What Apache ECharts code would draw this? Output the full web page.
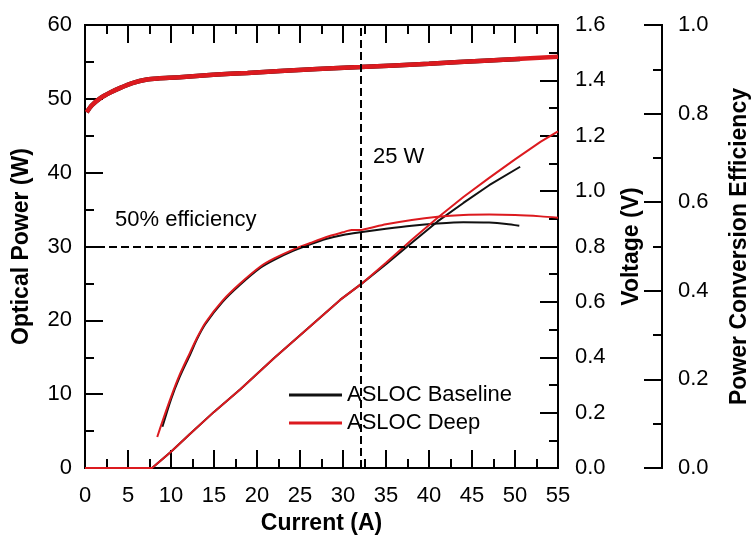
<!DOCTYPE html>
<html>
<head>
<meta charset="utf-8">
<script src="https://cdn.jsdelivr.net/npm/echarts@6/dist/echarts.min.js"></script>
<style>html,body{margin:0;padding:0;background:#fff}#c{width:753px;height:536px}</style>
</head>
<body>
<div id="c"></div>
<script>
// Current (A) vs optical power (W)
var powBase = [[0,0],[7.8,0],[10,2.2],[12.2,4.6],[15,7.6],[18.1,10.7],[22,14.9],[26,19.0],[29.7,22.8],[32.1,24.9],[35,27.6],[38,30.5],[41,33.4],[44,35.9],[47,38.3],[50.6,40.8]];
var powDeep = [[0,0],[7.8,0],[10,2.2],[12.2,4.6],[15,7.6],[18.1,10.7],[22,14.9],[26,19.0],[29.7,22.8],[32.1,24.9],[35,27.8],[38,30.9],[41,33.9],[44,36.7],[47,39.3],[50,41.8],[53,44.2],[55,45.6]];
// Current (A) vs voltage (V)
var voltBase = [[0.2,1.285],[0.8,1.31],[1.75,1.335],[3,1.357],[4.1,1.373],[5.5,1.39],[7.2,1.403],[8.5,1.407],[11,1.411],[14.9,1.42],[18.9,1.427],[22.7,1.434],[27,1.441],[32,1.448],[40,1.46],[47,1.472],[50.6,1.477]];
var voltDeep = [[0.2,1.285],[0.8,1.31],[1.75,1.335],[3,1.357],[4.1,1.373],[5.5,1.39],[7.2,1.403],[8.5,1.407],[11,1.411],[14.9,1.42],[18.9,1.427],[22.7,1.434],[27,1.441],[32,1.448],[40,1.46],[47,1.472],[55,1.485]];
// Current (A) vs power conversion efficiency
var effBase = [[9.0,0.093],[10,0.155],[11,0.205],[12.2,0.255],[13,0.29],[14,0.325],[16,0.375],[18,0.413],[20.4,0.452],[22,0.47],[24.2,0.49],[26.2,0.505],[28,0.517],[30,0.526],[32,0.532],[35,0.54],[38,0.547],[41,0.552],[44,0.555],[47,0.554],[49,0.551],[50.5,0.547]];
var effDeep = [[8.4,0.07],[9,0.105],[10,0.16],[11,0.21],[12.2,0.26],[13,0.293],[14,0.328],[16,0.378],[18,0.416],[20.4,0.455],[22,0.473],[24.2,0.493],[26.2,0.508],[28,0.521],[30,0.532],[31,0.537],[32,0.537],[33,0.541],[35,0.55],[38,0.56],[41,0.567],[44,0.571],[47,0.572],[50,0.571],[53,0.568],[55,0.565]];
// reference lines
var refPower = 30;      // 50% efficiency level on power axis
var refCurrent = 32.1;  // current at 25 W
var seriesNames = ['ASLOC Baseline', 'ASLOC Deep'];
var xTicks = {min: 0, max: 55, interval: 5, steps: 11};
var powTicks = {min: 0, max: 60, interval: 10, steps: 6};
var voltTicks = {min: 0, max: 1.6, interval: 0.2, steps: 8};
var effTicks = {min: 0, max: 1.0, interval: 0.2, steps: 5};

var FONT = 'Liberation Sans, Arial, sans-serif';
var BLACK = '#111111', RED = '#dc1a1f';
function axLine() { return {show: true, onZero: false, lineStyle: {color: '#000', width: 2}}; }
function noTk() { return {show: false}; }
function lbl(margin, fmt) {
  var o = {show: true, margin: margin, color: '#000', fontSize: 22, fontFamily: FONT};
  if (fmt) o.formatter = function (v) { return v.toFixed(1); };
  return o;
}
function nameStyle() { return {color: '#000', fontSize: 23, fontWeight: 'bold', fontFamily: FONT}; }
// label-less axis copies that carry the tick marks
function tickAxis(pos, t, long, offset) {
  var interval = long ? (t.max - t.min) : t.interval;
  return {type: 'value', position: pos, offset: offset || 0, min: t.min, max: t.max, interval: interval,
    axisLine: axLine(),
    axisTick: {show: true, inside: true, length: 18, lineStyle: {color: '#000', width: 2}},
    minorTick: {show: true, splitNumber: long ? t.steps : 2, length: long ? 18 : 9, lineStyle: {color: '#000', width: 2}},
    splitLine: {show: false}, minorSplitLine: {show: false},
    axisLabel: {show: false}, silent: true};
}

function line(name, data, yIdx, color, width, smooth) {
  return {name: name, type: 'line', data: data, xAxisIndex: 0, yAxisIndex: yIdx, showSymbol: false, symbol: 'none',
    smooth: smooth, lineStyle: {color: color, width: width}, itemStyle: {color: color}};
}

var chart = echarts.init(document.getElementById('c'), null, {renderer: 'canvas'});
var series = [
  line(seriesNames[0], voltBase, 1, BLACK, 4.5, 0.25),
  line(seriesNames[0], powBase, 0, BLACK, 2, false),
  line(seriesNames[0], effBase, 2, BLACK, 2, 0.25),
  line(seriesNames[1], voltDeep, 1, RED, 4.5, 0.25),
  line(seriesNames[1], powDeep, 0, RED, 2, false),
  line(seriesNames[1], effDeep, 2, RED, 2, 0.25)
];
series.push({
  type: 'line', data: [], xAxisIndex: 0, yAxisIndex: 0,
  markLine: {symbol: 'none', silent: true, label: {show: false},
    lineStyle: {color: '#000', width: 2, type: 'dashed'},
    data: [
      [{coord: [xTicks.min, refPower]}, {coord: [xTicks.max, refPower]}],
      [{coord: [refCurrent, powTicks.min]}, {coord: [refCurrent, powTicks.max]}]
    ]}
});

chart.setOption({
  animation: false,
  grid: {left: 85, right: 195, top: 25, bottom: 68, outerBoundsMode: 'none'},
  legend: {data: seriesNames, orient: 'vertical', left: 284, top: 379, icon: 'rect',
    itemWidth: 53, itemHeight: 3, itemGap: 6,
    textStyle: {color: '#000', fontSize: 22, fontFamily: FONT}},
  xAxis: [
    {type: 'value', position: 'bottom', min: xTicks.min, max: xTicks.max, interval: xTicks.interval,
      axisLine: axLine(), axisTick: noTk(), minorTick: noTk(), splitLine: {show: false}, minorSplitLine: {show: false},
      axisLabel: lbl(17),
      name: 'Current (A)', nameLocation: 'middle', nameGap: 42, nameTextStyle: nameStyle()},
    tickAxis('top', xTicks, false),
    tickAxis('top', xTicks, true),
    tickAxis('bottom', xTicks, false),
    tickAxis('bottom', xTicks, true)
  ],
  yAxis: [
    {type: 'value', position: 'left', min: powTicks.min, max: powTicks.max, interval: powTicks.interval,
      axisLine: axLine(), axisTick: noTk(), minorTick: noTk(), splitLine: {show: false},
      axisLabel: lbl(13),
      name: 'Optical Power (W)', nameLocation: 'middle', nameRotate: 90, nameGap: 52, nameTextStyle: nameStyle()},
    {type: 'value', position: 'right', min: voltTicks.min, max: voltTicks.max, interval: voltTicks.interval,
      axisLine: axLine(), axisTick: noTk(), minorTick: noTk(), splitLine: {show: false},
      axisLabel: lbl(17, true),
      name: 'Voltage (V)', nameLocation: 'middle', nameRotate: 90, nameGap: 62, nameTextStyle: nameStyle()},
    {type: 'value', position: 'right', offset: 104, min: effTicks.min, max: effTicks.max, interval: effTicks.interval,
      axisLine: axLine(), axisTick: noTk(), minorTick: noTk(), splitLine: {show: false},
      axisLabel: lbl(16, true),
      name: 'Power Conversion Efficiency', nameLocation: 'middle', nameRotate: 90, nameGap: 66, nameTextStyle: nameStyle()},
    tickAxis('left', powTicks, false),
    tickAxis('left', powTicks, true),
    tickAxis('right', voltTicks, false),
    tickAxis('right', voltTicks, true),
    tickAxis('right', effTicks, false, 104),
    tickAxis('right', effTicks, true, 104)
  ],
  graphic: [
    {type: 'text', left: 115, top: 209, style: {text: '50% efficiency', fill: '#000', fontSize: 22, fontFamily: FONT}},
    {type: 'text', left: 373, top: 146, style: {text: '25 W', fill: '#000', fontSize: 22, fontFamily: FONT}}
  ],
  series: series
});
</script>
</body>
</html>
